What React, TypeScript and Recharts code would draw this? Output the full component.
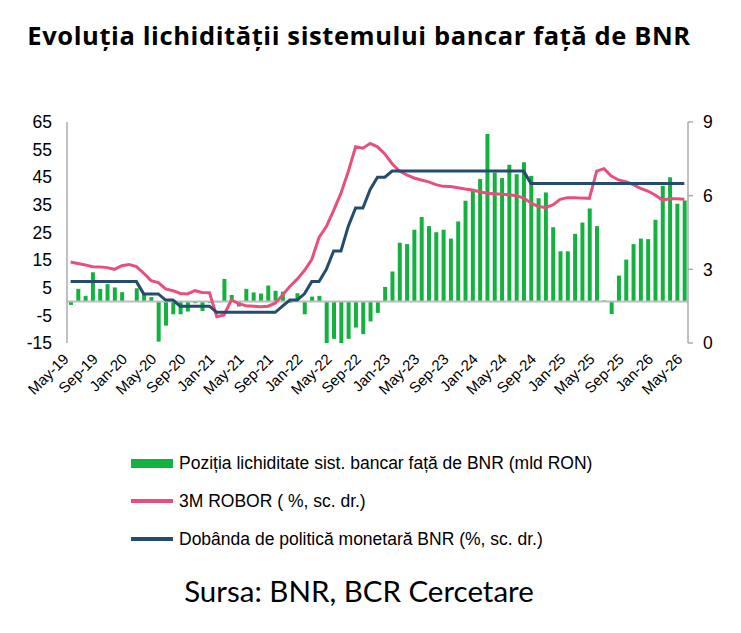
import { Bar, ComposedChart, Line, ReferenceLine, XAxis, YAxis } from 'recharts'

const months = [
  'May-19', 'Jun-19', 'Jul-19', 'Aug-19', 'Sep-19', 'Oct-19', 'Nov-19', 'Dec-19',
  'Jan-20', 'Feb-20', 'Mar-20', 'Apr-20', 'May-20', 'Jun-20', 'Jul-20', 'Aug-20',
  'Sep-20', 'Oct-20', 'Nov-20', 'Dec-20', 'Jan-21', 'Feb-21', 'Mar-21', 'Apr-21',
  'May-21', 'Jun-21', 'Jul-21', 'Aug-21', 'Sep-21', 'Oct-21', 'Nov-21', 'Dec-21',
  'Jan-22', 'Feb-22', 'Mar-22', 'Apr-22', 'May-22', 'Jun-22', 'Jul-22', 'Aug-22',
  'Sep-22', 'Oct-22', 'Nov-22', 'Dec-22', 'Jan-23', 'Feb-23', 'Mar-23', 'Apr-23',
  'May-23', 'Jun-23', 'Jul-23', 'Aug-23', 'Sep-23', 'Oct-23', 'Nov-23', 'Dec-23',
  'Jan-24', 'Feb-24', 'Mar-24', 'Apr-24', 'May-24', 'Jun-24', 'Jul-24', 'Aug-24',
  'Sep-24', 'Oct-24', 'Nov-24', 'Dec-24', 'Jan-25', 'Feb-25', 'Mar-25', 'Apr-25',
  'May-25', 'Jun-25', 'Jul-25', 'Aug-25', 'Sep-25', 'Oct-25', 'Nov-25', 'Dec-25',
  'Jan-26', 'Feb-26', 'Mar-26', 'Apr-26', 'May-26',
]

// pozitia de lichiditate, mld RON (sc. st.)
const liquidity = [
  -1.2, 4.6, 2.0, 10.6, 4.6, 6.3, 5.1, 3.4, 0, 4.8, 2.8, 1.6, -14.5, -8.7, -4.6, -4.6,
  -3.6, -0.6, -3.4, -0.5, -0.3, 8.2, 2.4, -1.8, 4.6, 3.3, 2.9, 5.8, 3.9, 3.6, -0.5, 3.0,
  -4.6, 1.8, 2.0, -15, -13.5, -15, -13.5, -9.4, -11.8, -7.2, -4.1, 5.3, 10.9, 21.3, 20.8, 26.0,
  30.6, 27.3, 25.1, 26.0, 22.8, 29.0, 36.5, 40.1, 44.4, 60.7, 46.7, 44.7, 49.5, 46.1, 50.4, 45.5,
  37.4, 39.5, 26.9, 18.2, 18.2, 24.5, 28.6, 33.7, 27.3, 0.4, -4.5, 9.4, 15.2, 20.8, 22.8, 22.6,
  29.6, 41.9, 45.0, 35.4, 36.6,
]

// ROBOR 3M, % (sc. dr.)
const robor = [
  3.3, 3.24, 3.18, 3.11, 3.1, 3.07, 3.0, 3.15, 3.2, 3.11, 2.84, 2.54, 2.46, 2.2, 2.13, 2.02,
  2.0, 2.13, 2.06, 2.05, 1.07, 1.14, 1.75, 1.6, 1.52, 1.5, 1.48, 1.5, 1.62, 1.95, 2.3, 2.6,
  2.95, 3.4, 4.3, 4.74, 5.4, 6.1, 6.98, 7.99, 7.93, 8.13, 7.99, 7.7, 7.3, 7.0, 6.85, 6.72,
  6.64, 6.56, 6.45, 6.38, 6.37, 6.32, 6.27, 6.23, 6.16, 6.1, 6.08, 6.06, 6.04, 6.0, 5.9, 5.7,
  5.56, 5.52, 5.62, 5.85, 5.92, 5.92, 5.9, 5.89, 7.0, 7.1, 6.8, 6.64, 6.57, 6.45, 6.3, 6.19,
  6.03, 5.82, 5.87, 5.87, 5.85,
]

// dobanda de politica monetara, % (sc. dr.)
const policyRate = [
  2.5, 2.5, 2.5, 2.5, 2.5, 2.5, 2.5, 2.5, 2.5, 2.5, 2.0, 2.0, 2.0, 1.75, 1.75, 1.5,
  1.5, 1.5, 1.5, 1.5, 1.25, 1.25, 1.25, 1.25, 1.25, 1.25, 1.25, 1.25, 1.25, 1.5, 1.75, 1.75,
  2.0, 2.5, 2.5, 3.0, 3.75, 3.75, 4.75, 5.5, 5.5, 6.25, 6.75, 6.75, 7.0, 7.0, 7.0, 7.0,
  7.0, 7.0, 7.0, 7.0, 7.0, 7.0, 7.0, 7.0, 7.0, 7.0, 7.0, 7.0, 7.0, 7.0, 7.0, 6.5,
  6.5, 6.5, 6.5, 6.5, 6.5, 6.5, 6.5, 6.5, 6.5, 6.5, 6.5, 6.5, 6.5, 6.5, 6.5, 6.5,
  6.5, 6.5, 6.5, 6.5, 6.5,
]

const leftTicks = [-15, -5, 5, 15, 25, 35, 45, 55, 65]
const rightTicks = [0, 3, 6, 9]

const GREEN = '#13b23f'
const PINK = '#e94f7c'
const NAVY = '#254c6d'
const AXIS = '#ababab'
const FONT = '"Liberation Sans", Arial, sans-serif'

const data = months.map((month, i) => ({
  month,
  liquidity: liquidity[i],
  robor: robor[i],
  policy: policyRate[i],
}))

function MonthTick({ x, y, payload }: any) {
  return (
    <text
      x={x - 1}
      y={y}
      transform={`rotate(-45 ${x - 1} ${y})`}
      textAnchor="end"
      fontSize={15}
      fontFamily={FONT}
      fill="#000"
    >
      {payload.value}
    </text>
  )
}

const legendItems = [
  { label: 'Poziția lichiditate sist. bancar față de BNR (mld RON)', color: GREEN, kind: 'bar' },
  { label: '3M ROBOR ( %, sc. dr.)', color: PINK, kind: 'line' },
  { label: 'Dobânda de politică monetară BNR (%, sc. dr.)', color: NAVY, kind: 'line' },
]

export default function App() {
  return (
    <div
      style={{
        position: 'absolute',
        left: 0,
        top: 0,
        width: 741,
        height: 633,
        background: '#fff',
        overflow: 'hidden',
      }}
    >
      <div
        style={{
          position: 'absolute',
          left: 0,
          top: 18,
          width: 718,
          textAlign: 'center',
          fontFamily: '"Open Sans", Lato, sans-serif',
          fontWeight: 700,
          fontSize: 25.5,
          letterSpacing: 0.6,
          lineHeight: '34px',
          color: '#000',
          whiteSpace: 'nowrap',
        }}
      >
        Evoluția lichidității sistemului bancar față de BNR
      </div>

      <div style={{ position: 'absolute', left: 0, top: 0 }}>
        <ComposedChart
          width={741}
          height={420}
          data={data}
          margin={{ top: 122, right: 0, bottom: 17, left: 0 }}
          barCategoryGap={0}
        >
          <XAxis
            dataKey="month"
            interval={3}
            axisLine={false}
            tickLine={false}
            tickSize={0}
            tickMargin={17}
            height={60}
            tick={<MonthTick />}
          />
          <YAxis
            yAxisId="left"
            orientation="left"
            width={67}
            domain={[-15, 65]}
            ticks={leftTicks}
            interval={0}
            axisLine={{ stroke: AXIS, strokeWidth: 1.5 }}
            tickLine={false}
            tickSize={0}
            tickMargin={15}
            tick={{ fill: '#000', fontSize: 17.5, fontFamily: FONT }}
          />
          <YAxis
            yAxisId="right"
            orientation="right"
            width={53}
            domain={[0, 9]}
            ticks={rightTicks}
            interval={0}
            axisLine={{ stroke: AXIS, strokeWidth: 1.5 }}
            tickLine={{ stroke: AXIS, strokeWidth: 1.5 }}
            tickSize={5}
            tickMargin={10}
            tick={{ fill: '#000', fontSize: 17.5, fontFamily: FONT }}
          />
          <ReferenceLine yAxisId="left" y={0} stroke="#bdbdbd" strokeWidth={2} />
          <Bar
            yAxisId="left"
            dataKey="liquidity"
            fill={GREEN}
            barSize={4}
            isAnimationActive={false}
          />
          <Line
            yAxisId="right"
            dataKey="robor"
            type="linear"
            stroke={PINK}
            strokeWidth={3}
            dot={false}
            isAnimationActive={false}
          />
          <Line
            yAxisId="right"
            dataKey="policy"
            type="linear"
            stroke={NAVY}
            strokeWidth={3}
            dot={false}
            isAnimationActive={false}
          />
        </ComposedChart>
      </div>

      {legendItems.map((item, i) => (
        <div
          key={item.label}
          style={{
            position: 'absolute',
            left: 131,
            top: 451 + i * 38,
            height: 24,
            display: 'flex',
            alignItems: 'center',
            fontFamily: FONT,
            fontSize: 17.5,
            color: '#000',
            whiteSpace: 'nowrap',
          }}
        >
          <span
            style={{
              display: 'inline-block',
              width: 42,
              height: item.kind === 'bar' ? 9 : 3.5,
              background: item.color,
              marginRight: 6,
            }}
          />
          {item.label}
        </div>
      ))}

      <div
        style={{
          position: 'absolute',
          left: 0,
          top: 573,
          width: 718,
          textAlign: 'center',
          fontFamily: 'Lato, "Open Sans", sans-serif',
          fontSize: 29.5,
          lineHeight: '36px',
          color: '#000',
          whiteSpace: 'nowrap',
        }}
      >
        Sursa: BNR, BCR Cercetare
      </div>
    </div>
  )
}
